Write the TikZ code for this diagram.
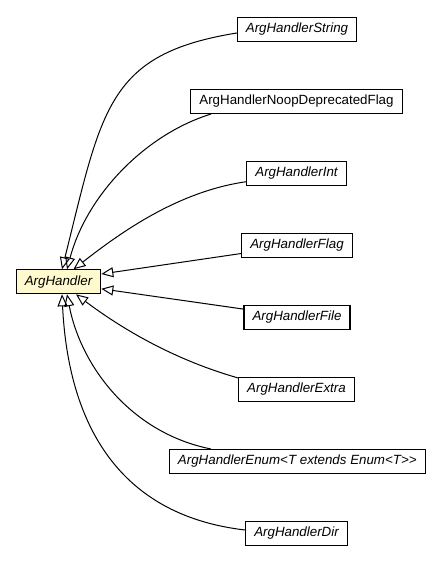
\documentclass[tikz,border=0pt]{standalone}
\usepackage{fontspec}
\setmainfont{Liberation Sans}
\usepackage{tikz}
\usetikzlibrary{
	arrows.meta,
	calc,
	}
\tikzset{
	cls/.style={draw,line width=0.8pt,fill=white,inner xsep=6.4pt,inner ysep=0pt,minimum height=18pt,font=\fontsize{10}{12}\selectfont\itshape},
	basecls/.style={cls,fill={rgb,255:red,255;green,250;blue,205}},
	inherit/.style={line width=0.75pt,-{Triangle[open,length=9pt,width=7.5pt]}},
}

\begin{document}
\begin{tikzpicture}[x=0.75pt,y=-0.75pt]
\useasboundingbox (0,0) rectangle (440,563);
\node[basecls] (base) at (58.5,281.8) {ArgHandler};
\node[cls] (str) at (297,29.5) {ArgHandlerString};
\node[cls,font=\fontsize{10}{12}\selectfont] (noop) at (296.5,101.5) {ArgHandlerNoopDeprecatedFlag};
\node[cls] (int) at (296.5,173.5) {ArgHandlerInt};
\node[cls] (flag) at (297,245.5) {ArgHandlerFlag};
\node[cls] (file) at (297,317.5) {ArgHandlerFile};
\node[cls] (extra) at (296.5,389.5) {ArgHandlerExtra};
\node[cls] (enum) at (297.3,461.5) {ArgHandlerEnum<T extends Enum<T>{}>};
\node[cls] (dir) at (296.5,533.5) {ArgHandlerDir};
% children above
\draw[inherit] ($(str.west)+(0,3.5)$) .. controls +(-130,21) and +(40,-160) .. ($(base.north)+(3.5,0)$);
\draw[inherit] ($(noop.south west)+(20.7,0)$) .. controls +(-65,20) and +(20,-75) .. ($(base.north)+(8.5,0)$);
\draw[inherit] ($(int.west)+(0,8.2)$) .. controls +(-70,10) and +(45,-35) .. ($(base.north)+(15,0)$);
% children beside
\draw[inherit] ($(flag.west)+(0,8)$) -- ($(base.east)+(0,-7.8)$);
\draw[inherit] ($(file.west)+(0,-8.4)$) -- ($(base.east)+(0,7)$);
% children below
\draw[inherit] ($(extra.north west)+(0,1)$) .. controls +(-70,-20) and +(40,30) .. ($(base.south)+(17.5,0)$);
\draw[inherit] ($(enum.north west)+(42,0)$) .. controls +(-80,-16) and +(14,72) .. ($(base.south)+(8.5,0)$);
\draw[inherit] ($(dir.west)+(0,-3.5)$) .. controls +(-130,-15) and +(6,125) .. ($(base.south)+(3.5,0)$);
\end{tikzpicture}
\end{document}
